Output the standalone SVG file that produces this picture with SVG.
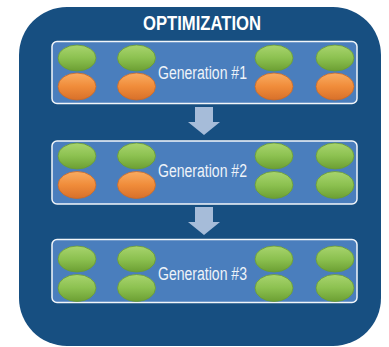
<svg xmlns="http://www.w3.org/2000/svg" width="389" height="347" viewBox="0 0 389 347">
<defs>
<linearGradient id="gGreen" x1="0" y1="0" x2="0" y2="1">
<stop offset="0" stop-color="#A8D46E"/>
<stop offset="0.5" stop-color="#8CC150"/>
<stop offset="1" stop-color="#6C9F33"/>
</linearGradient>
<linearGradient id="gOrange" x1="0" y1="0" x2="0" y2="1">
<stop offset="0" stop-color="#F9AC62"/>
<stop offset="0.5" stop-color="#F08C3A"/>
<stop offset="1" stop-color="#D8702A"/>
</linearGradient>
<style>
.outer{fill:#174F81}
.panel{fill:#4A7EBD;stroke:#F2F6FA;stroke-width:1.5}
.g{fill:url(#gGreen);stroke:#6A9B35;stroke-width:0.8}
.o{fill:url(#gOrange);stroke:#C8692A;stroke-width:0.8}
.lbl{font-family:"Liberation Sans",Arial,sans-serif;font-size:18px;fill:#EEF3F9}
.title{font-family:"Liberation Sans",Arial,sans-serif;font-size:20px;font-weight:bold;fill:#FFFFFF}
.arrow{fill:#A6BCD9}
</style>
</defs>
<rect class="outer" x="19" y="7" width="362" height="339" rx="48" ry="48"/>
<text class="title" x="202" y="30" text-anchor="middle" textLength="118" lengthAdjust="spacingAndGlyphs">OPTIMIZATION</text>
<g id="connectors">
<polygon class="arrow" points="195,107 213,107 213,122 220,122 204,135 188,122 195,122"/>
<polygon class="arrow" points="195,207 213,207 213,222 220,222 204,235 188,222 195,222"/>
</g>
<g id="gen1">
<rect class="panel" x="52" y="41.5" width="305" height="62" rx="5"/>
<ellipse class="g" cx="77" cy="58" rx="19" ry="13"/>
<ellipse class="g" cx="136.5" cy="58" rx="19" ry="13"/>
<ellipse class="g" cx="274" cy="58" rx="19" ry="13"/>
<ellipse class="g" cx="335" cy="58" rx="19" ry="13"/>
<ellipse class="o" cx="77" cy="86.5" rx="19" ry="13.5"/>
<ellipse class="o" cx="136.5" cy="86.5" rx="19" ry="13.5"/>
<ellipse class="o" cx="274" cy="86.5" rx="19" ry="13.5"/>
<ellipse class="o" cx="335" cy="86.5" rx="19" ry="13.5"/>
<text class="lbl" x="158" y="79" textLength="89" lengthAdjust="spacingAndGlyphs">Generation #1</text>
</g>
<g id="gen2">
<rect class="panel" x="52" y="141" width="305" height="63" rx="5"/>
<ellipse class="g" cx="77" cy="156" rx="19" ry="13"/>
<ellipse class="g" cx="136.5" cy="156" rx="19" ry="13"/>
<ellipse class="g" cx="274" cy="156" rx="19" ry="13"/>
<ellipse class="g" cx="335" cy="156" rx="19" ry="13"/>
<ellipse class="o" cx="77" cy="185" rx="19" ry="13.5"/>
<ellipse class="o" cx="136.5" cy="185" rx="19" ry="13.5"/>
<ellipse class="g" cx="274" cy="185" rx="19" ry="13.5"/>
<ellipse class="g" cx="335" cy="185" rx="19" ry="13.5"/>
<text class="lbl" x="158" y="177" textLength="89" lengthAdjust="spacingAndGlyphs">Generation #2</text>
</g>
<g id="gen3">
<rect class="panel" x="52" y="239.5" width="305" height="63" rx="5"/>
<ellipse class="g" cx="77" cy="259" rx="19" ry="13"/>
<ellipse class="g" cx="136.5" cy="259" rx="19" ry="13"/>
<ellipse class="g" cx="274" cy="259" rx="19" ry="13"/>
<ellipse class="g" cx="335" cy="259" rx="19" ry="13"/>
<ellipse class="g" cx="77" cy="288" rx="19" ry="13.5"/>
<ellipse class="g" cx="136.5" cy="288" rx="19" ry="13.5"/>
<ellipse class="g" cx="274" cy="288" rx="19" ry="13.5"/>
<ellipse class="g" cx="335" cy="288" rx="19" ry="13.5"/>
<text class="lbl" x="158" y="280" textLength="89" lengthAdjust="spacingAndGlyphs">Generation #3</text>
</g>
</svg>
